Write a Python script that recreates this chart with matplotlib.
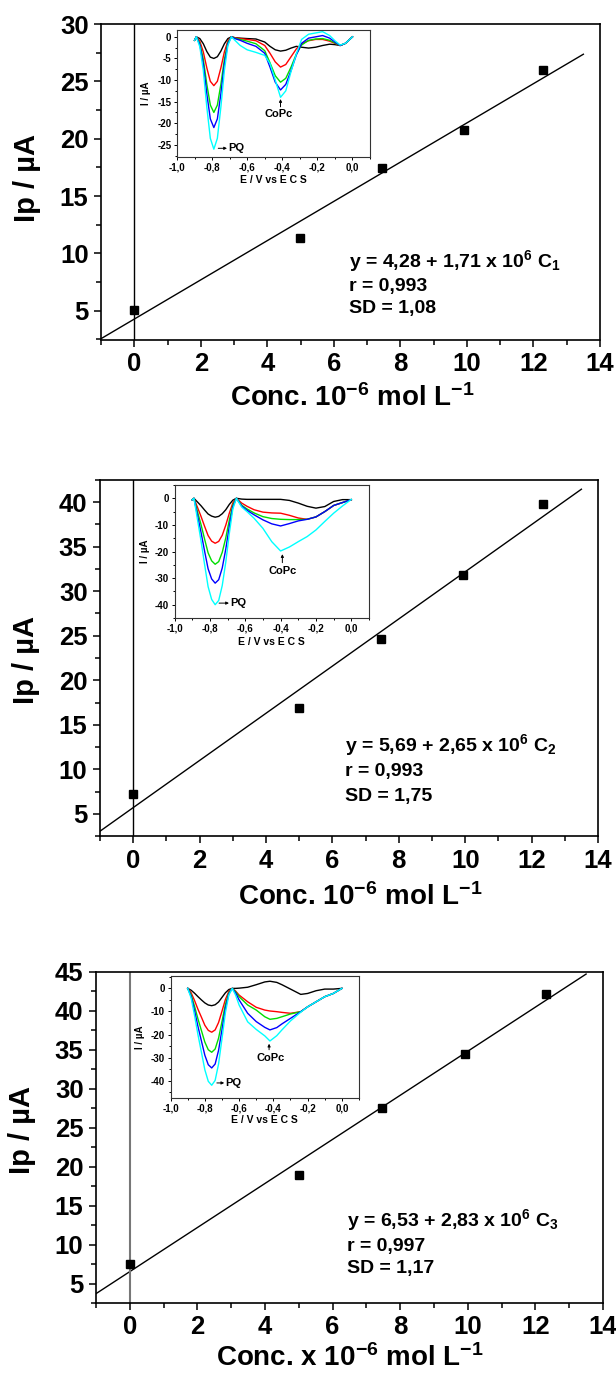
import matplotlib
matplotlib.use("Agg")
import numpy as np
import matplotlib.pyplot as plt
from matplotlib.ticker import MultipleLocator

plt.rcParams['font.family'] = ['Liberation Sans', 'DejaVu Sans']
plt.rcParams['font.weight'] = 'bold'
plt.rcParams['mathtext.fontset'] = 'custom'
plt.rcParams['mathtext.rm'] = 'Liberation Sans:bold'
plt.rcParams['mathtext.bf'] = 'Liberation Sans:bold'
plt.rcParams['mathtext.it'] = 'Liberation Sans:bold'
plt.rcParams['axes.unicode_minus'] = False

W, H = 616, 1376

# calibration data (conc in 10^-6 mol/L, peak current in uA)
conc1 = [0, 4.97, 7.45, 9.9, 12.3]
ip1 = [5.05, 11.35, 17.45, 20.8, 26.0]
conc2 = [0, 4.98, 7.46, 9.92, 12.33]
ip2 = [7.26, 16.83, 24.6, 31.85, 39.8]
conc3 = [0.02, 5.0, 7.46, 9.92, 12.32]
ip3 = [7.47, 18.96, 27.55, 34.49, 42.15]

# fit coefficients (intercept, slope) as printed on the chart
fit1 = (4.28, 1.71)
fit2 = (5.69, 2.65)
fit3 = (6.53, 2.83)

eq_texts1 = ["y = 4,28 + 1,71 x 10$^6$ C$_1$", "r = 0,993", "SD = 1,08"]
eq_texts2 = ["y = 5,69 + 2,65 x 10$^6$ C$_2$", "r = 0,993", "SD = 1,75"]
eq_texts3 = ["y = 6,53 + 2,83 x 10$^6$ C$_3$", "r = 0,997", "SD = 1,17"]

# inset voltammograms: E / V vs ECS and I / uA
E1 = [-0.90, -0.89, -0.87, -0.85, -0.83, -0.81, -0.79, -0.77, -0.75, -0.73, -0.71, -0.69,
      -0.67, -0.64, -0.60, -0.55, -0.50, -0.47, -0.44, -0.41, -0.38, -0.35, -0.32, -0.29,
      -0.25, -0.21, -0.17, -0.13, -0.10, -0.07, -0.04, 0.0]
black1 = [-0.8, 0.0, -0.4, -1.6, -3.4, -4.7, -5.0, -4.6, -3.3, -1.6, -0.4, 0.0,
          -0.2, -0.3, -0.4, -0.5, -1.2, -2.2, -3.0, -3.3, -3.1, -2.6, -2.2, -2.4,
          -2.6, -2.4, -2.0, -1.7, -1.8, -2.0, -1.5, 0.0]
red1 = [-0.8, 0.0, -1.0, -3.5, -7.2, -10.3, -11.3, -10.3, -7.2, -3.5, -0.9, 0.0,
        -0.2, -0.4, -0.6, -0.9, -2.0, -3.8, -5.8, -7.0, -6.4, -4.6, -2.8, -1.6,
        -0.9, -0.6, -0.6, -1.0, -1.5, -2.0, -1.5, 0.0]
green1 = [-0.8, 0.0, -1.5, -5.2, -11.0, -15.8, -17.5, -15.8, -11.0, -5.2, -1.3, 0.0,
          -0.3, -0.6, -1.0, -1.6, -3.2, -6.0, -9.0, -10.5, -9.6, -7.0, -4.0, -1.9,
          -0.8, -0.5, -0.4, -0.8, -1.4, -2.0, -1.5, 0.0]
blue1 = [-0.8, 0.0, -1.8, -6.3, -13.2, -19.0, -21.0, -19.0, -13.2, -6.3, -1.6, 0.0,
         -0.4, -0.8, -1.5, -2.2, -3.8, -7.0, -10.5, -12.3, -11.0, -7.8, -4.2, -1.5,
         -0.3, 0.0, 0.3, -0.3, -1.2, -2.0, -1.5, 0.0]
cyan1 = [-0.8, 0.0, -2.3, -7.8, -16.3, -23.5, -26.0, -23.5, -16.3, -7.8, -2.0, 0.0,
         -0.8, -2.0, -3.0, -3.6, -4.3, -6.2, -10.0, -14.0, -12.5, -8.0, -4.0, -0.6,
         0.6, 0.9, 1.2, 0.3, -0.9, -1.9, -1.5, 0.0]

E2 = [-0.90, -0.89, -0.87, -0.85, -0.83, -0.81, -0.79, -0.77, -0.75, -0.73, -0.71, -0.69,
      -0.67, -0.65, -0.62, -0.59, -0.55, -0.50, -0.45, -0.40, -0.35, -0.30, -0.25, -0.20,
      -0.15, -0.10, -0.05, 0.0]
black2 = [-0.6, 0.0, -1.4, -2.8, -4.4, -5.9, -6.7, -7.1, -6.8, -5.8, -4.3, -2.3, -0.7, 0.0,
          -0.3, -0.4, -0.4, -0.4, -0.4, -0.4, -0.8, -1.8, -3.0, -3.7, -3.1, -1.2, -0.5, -0.5]
red2 = [-0.6, 0.0, -3.4, -6.8, -10.5, -14.0, -16.1, -16.9, -16.2, -13.9, -10.1, -5.6, -1.7, 0.0,
        -1.8, -3.0, -4.3, -5.2, -5.5, -5.6, -6.4, -7.4, -7.9, -7.0, -5.0, -2.7, -1.6, -0.5]
green2 = [-0.6, 0.0, -5.0, -9.9, -15.3, -20.5, -23.5, -24.8, -23.8, -20.3, -14.9, -8.2, -2.5, 0.0,
          -2.6, -4.0, -5.5, -6.9, -7.6, -7.9, -8.0, -8.0, -7.9, -7.0, -5.0, -2.7, -1.6, -0.5]
blue2 = [-0.6, 0.0, -6.4, -12.8, -19.8, -26.5, -30.3, -31.9, -30.6, -26.2, -19.1, -10.5, -3.2, 0.0,
         -2.9, -4.5, -6.2, -8.1, -9.6, -10.4, -9.5, -8.5, -7.9, -7.0, -5.0, -2.7, -1.6, -0.5]
cyan2 = [-0.6, 0.0, -8.0, -16.0, -24.8, -33.2, -38.0, -40.0, -38.4, -32.8, -24.0, -13.2, -4.0, 0.0,
         -3.3, -5.0, -7.5, -11.3, -16.3, -19.8, -18.3, -16.3, -14.4, -11.9, -8.7, -5.6, -2.9, -0.4]

E3 = [-0.90, -0.88, -0.86, -0.84, -0.82, -0.80, -0.78, -0.76, -0.74, -0.72, -0.70, -0.68,
      -0.66, -0.64, -0.62, -0.60, -0.55, -0.50, -0.45, -0.42, -0.38, -0.35, -0.30, -0.24,
      -0.20, -0.15, -0.10, -0.05, 0.0]
black3 = [0.0, -0.8, -2.1, -3.6, -5.0, -6.3, -7.2, -7.5, -7.1, -5.9, -3.9, -1.9, -0.5, 0.0,
          0.0, 0.1, 0.5, 1.6, 2.8, 3.1, 2.6, 1.6, -0.3, -2.6, -2.2, -1.0, -0.3, -0.3, 0.0]
red3 = [0.0, -1.9, -5.3, -9.1, -12.5, -16.0, -18.2, -19.0, -18.0, -14.8, -9.9, -4.8, -1.3, 0.0,
        -1.2, -2.9, -5.8, -8.2, -9.4, -9.8, -10.1, -10.4, -10.8, -10.1, -8.0, -5.8, -3.6, -2.2, 0.0]
green3 = [0.0, -2.8, -7.8, -13.3, -18.3, -23.3, -26.6, -27.7, -26.3, -21.6, -14.4, -6.9, -1.9, 0.0,
          -1.5, -3.6, -7.2, -9.4, -12.3, -13.4, -13.0, -12.3, -11.1, -10.1, -8.0, -5.8, -3.6, -2.2, 0.0]
blue3 = [0.0, -3.5, -9.7, -16.6, -22.8, -29.0, -33.1, -34.5, -32.8, -26.9, -17.9, -8.6, -2.4, 0.0,
         -2.0, -5.0, -10.8, -14.4, -16.9, -18.0, -17.0, -15.4, -13.0, -10.1, -8.0, -5.8, -3.6, -2.2, 0.0]
cyan3 = [0.0, -4.2, -11.8, -20.2, -27.7, -35.3, -40.3, -42.0, -39.9, -32.8, -21.8, -10.5, -2.9, 0.0,
         -3.0, -7.2, -14.5, -17.8, -20.6, -22.8, -20.5, -18.0, -14.1, -10.3, -8.0, -5.8, -3.6, -2.2, 0.0]

curve_colors = ['black', '#ff0000', '#00dd00', '#0000ff', '#00ffff']


def px_axes(fig, left, top, right, bottom):
    return fig.add_axes([left / W, 1 - bottom / H, (right - left) / W, (bottom - top) / H])


def main_panel(fig, box, conc, ip, fit, ymax, texts, text_x, text_ys, xlabel, xlab_pos,
               ylab_pos, zero_color='black', zero_lw=1.0):
    ax = px_axes(fig, *box)
    xf = np.array([-1.0, 13.5])
    ax.plot(xf, fit[0] + fit[1] * xf, color='black', lw=1.0)
    ax.axvline(0, color=zero_color, lw=zero_lw)
    ax.plot(conc, ip, 's', color='black', ms=6)
    ax.set_xlim(-1, 14)
    ax.set_ylim(2.5, ymax)
    ax.set_xticks(range(0, 15, 2))
    ax.set_yticks(range(5, int(ymax) + 1, 5))
    ax.xaxis.set_minor_locator(MultipleLocator(1))
    ax.yaxis.set_minor_locator(MultipleLocator(2.5))
    ax.tick_params(which='major', direction='out', length=5, width=1.1, labelsize=18.5, pad=4)
    ax.tick_params(which='minor', direction='out', length=3.3, width=1.1)
    for lab in ax.get_xticklabels() + ax.get_yticklabels():
        lab.set_fontweight('bold')
    for sp in ax.spines.values():
        sp.set_linewidth(1.2)
    for t, ty in zip(texts, text_ys):
        ax.text(text_x, ty, t, fontsize=14, fontweight='bold', va='center', ha='left')
    fig.text(xlab_pos[0] / W, 1 - xlab_pos[1] / H, xlabel, fontsize=20, fontweight='bold',
             ha='center', va='center')
    fig.text(ylab_pos[0] / W, 1 - ylab_pos[1] / H, 'Ip / µA', fontsize=21, fontweight='bold',
             ha='center', va='center', rotation=90)
    return ax


def inset_panel(fig, box, E, curves, ylim, yticks, yminor, copc, pq, xlab_y, ylab_x):
    ax = px_axes(fig, *box)
    for c, col in zip(curves, curve_colors):
        ax.plot(E, c, color=col, lw=1.0)
    ax.set_xlim(-1.0, 0.1)
    ax.set_ylim(*ylim)
    xt = [-1.0, -0.8, -0.6, -0.4, -0.2, 0.0]
    ax.set_xticks(xt)
    ax.set_xticklabels([f"{v:.1f}".replace('.', ',').replace('-0,0', '0,0') for v in xt])
    ax.set_yticks(yticks)
    ax.set_yticklabels([str(v) for v in yticks])
    ax.xaxis.set_minor_locator(MultipleLocator(0.1))
    ax.yaxis.set_minor_locator(MultipleLocator(yminor))
    ax.tick_params(which='major', direction='out', length=2.5, width=0.7, labelsize=7, pad=1.5)
    ax.tick_params(which='minor', direction='out', length=1.5, width=0.7)
    for lab in ax.get_xticklabels() + ax.get_yticklabels():
        lab.set_fontweight('bold')
    for sp in ax.spines.values():
        sp.set_linewidth(0.8)
        sp.set_color('#333333')
    # CoPc label with small upward arrow
    ax.annotate('', xy=(copc[0], copc[2]), xytext=(copc[0], copc[3]),
                arrowprops=dict(arrowstyle='-|>', lw=0.7, color='black', mutation_scale=4,
                                shrinkA=0, shrinkB=0))
    ax.text(copc[1], copc[4], 'CoPc', fontsize=8, fontweight='bold', ha='center', va='center')
    # PQ label with small arrow
    ax.annotate('', xy=(pq[1], pq[2]), xytext=(pq[0], pq[2]),
                arrowprops=dict(arrowstyle='-|>', lw=0.7, color='black', mutation_scale=4,
                                shrinkA=0, shrinkB=0))
    ax.text(pq[1] + 0.005, pq[2], 'PQ', fontsize=8, fontweight='bold', ha='left', va='center')
    cx = (box[0] + box[2]) / 2
    cy = (box[1] + box[3]) / 2
    fig.text(cx / W, 1 - xlab_y / H, 'E / V vs E C S', fontsize=7.5, fontweight='bold',
             ha='center', va='center')
    fig.text(ylab_x / W, 1 - cy / H, 'I / µA', fontsize=7, fontweight='bold',
             ha='center', va='center', rotation=90)
    return ax


fig = plt.figure(figsize=(W / 100, H / 100), dpi=100)

main_panel(fig, (101, 24, 600, 339.5), conc1, ip1, fit1, 30, eq_texts1, 6.44,
           [9.33, 7.1, 5.23], 'Conc. 10$^{-6}$ mol L$^{-1}$', (352, 398), (27, 178))
main_panel(fig, (100, 480, 598, 836), conc2, ip2, fit2, 42.5, eq_texts2, 6.38,
           [12.7, 9.7, 6.9], 'Conc. 10$^{-6}$ mol L$^{-1}$', (360, 897), (26, 660))
main_panel(fig, (96, 972, 603, 1303), conc3, ip3, fit3, 45, eq_texts3, 6.44,
           [13.2, 9.8, 6.9], 'Conc. x 10$^{-6}$ mol L$^{-1}$', (350, 1358), (22, 1130),
           zero_color='#777777', zero_lw=1.5)

inset_panel(fig, (177, 29.5, 370, 156.5), E1, [black1, red1, green1, blue1, cyan1],
            (-27.7, 1.7), [0, -5, -10, -15, -20, -25], 2.5,
            (-0.41, -0.42, -14.4, -16.2, -17.8), (-0.765, -0.715, -25.8), 180, 146)
inset_panel(fig, (174.5, 485, 369, 618), E2, [black2, red2, green2, blue2, cyan2],
            (-45, 5), [0, -10, -20, -30, -40], 5,
            (-0.39, -0.39, -21.0, -24.2, -27.4), (-0.748, -0.692, -39.4), 642, 145)
inset_panel(fig, (170.6, 976.4, 359, 1097.7), E3, [black3, red3, green3, blue3, cyan3],
            (-47.4, 5.2), [0, -10, -20, -30, -40], 5,
            (-0.425, -0.416, -24.0, -26.6, -30.0), (-0.73, -0.687, -41.0), 1120, 140)

fig.savefig('out.png', dpi=100)
